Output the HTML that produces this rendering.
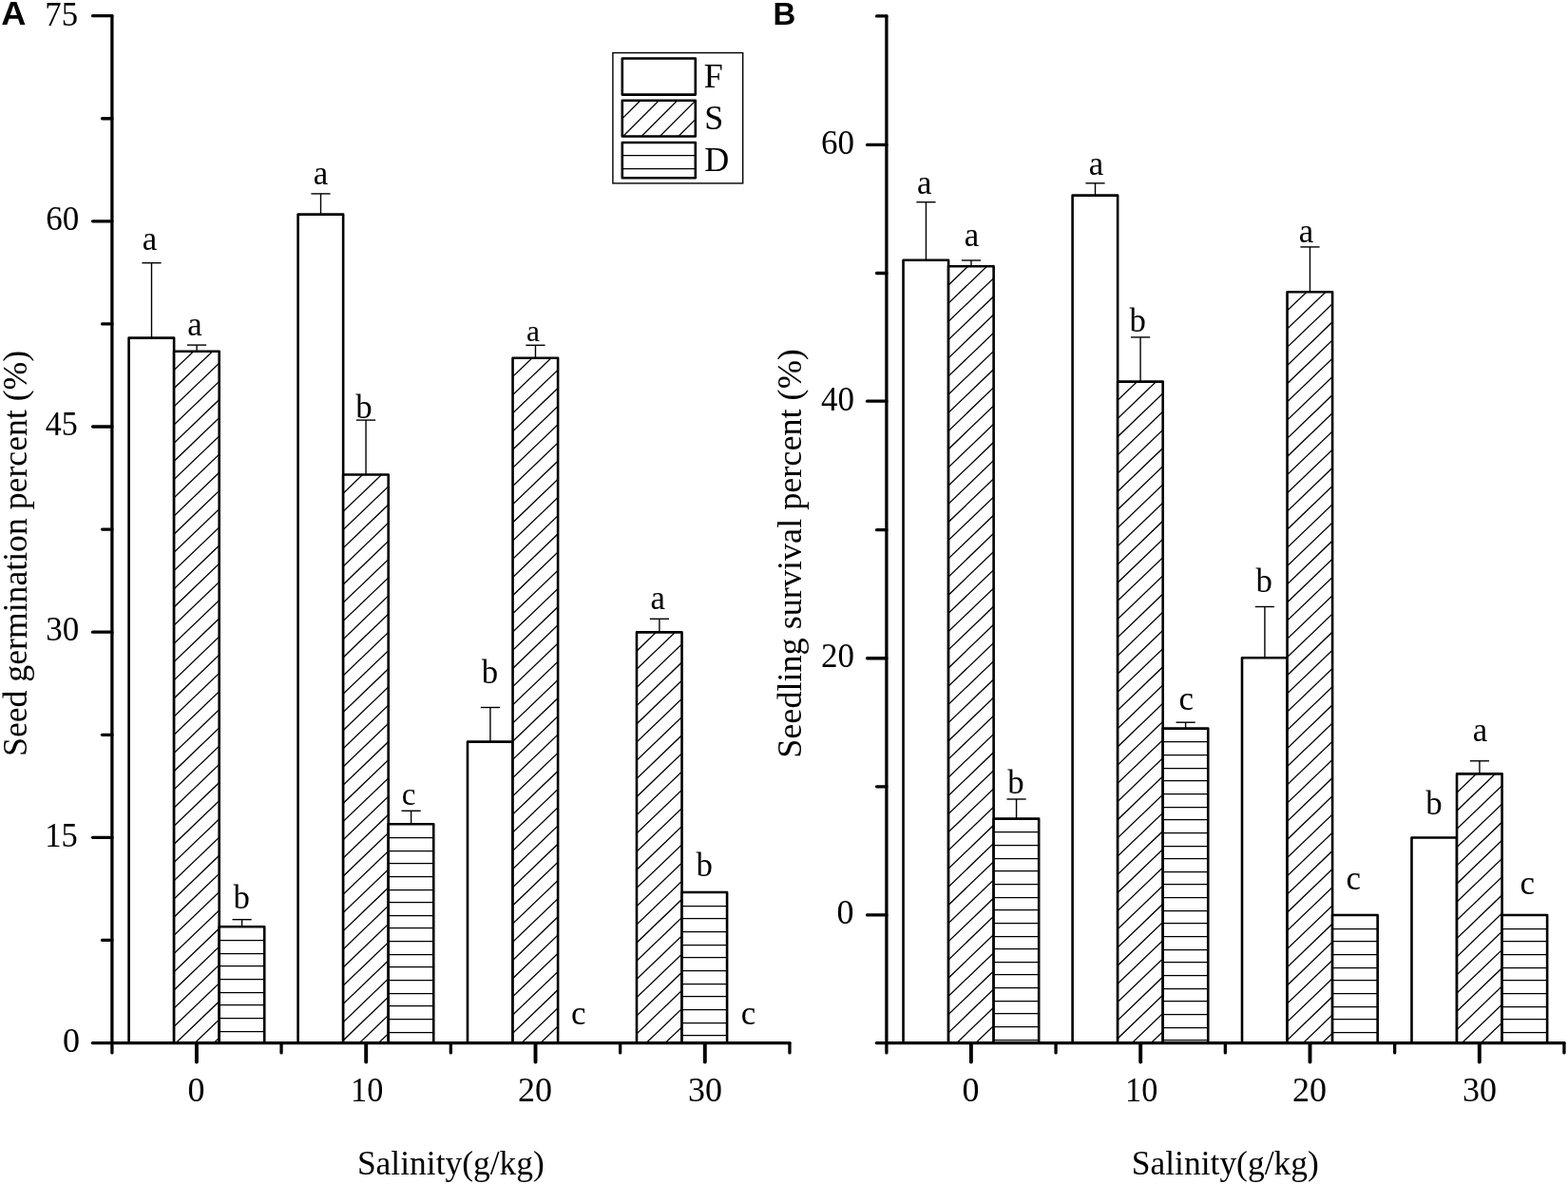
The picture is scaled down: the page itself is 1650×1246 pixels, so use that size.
<!DOCTYPE html>
<html lang="en">
<head>
<meta charset="utf-8">
<title>Seed germination and seedling survival percent versus salinity</title>
<style>
html,body{margin:0;padding:0;background:#fff;width:1650px;height:1246px;overflow:hidden}
svg{display:block;position:absolute;left:0;top:0}
text{font-family:"Liberation Serif","Times New Roman",Times,serif;fill:#000}
text.b{font-family:"Liberation Sans",Arial,Helvetica,sans-serif;font-weight:bold}
</style>
</head>
<body>
<svg width="1650" height="1246" viewBox="0 0 1650 1246">
<rect x="0" y="0" width="1650" height="1246" fill="#fff"/>
<defs>
<clipPath id="c1"><rect x="183.12" y="369.8" width="47.55" height="727.75"/></clipPath>
<clipPath id="c2"><rect x="361.15" y="499.5" width="47.55" height="598.05"/></clipPath>
<clipPath id="c3"><rect x="539.55" y="376.8" width="47.55" height="720.75"/></clipPath>
<clipPath id="c4"><rect x="669.98" y="665.4" width="47.55" height="432.15"/></clipPath>
<clipPath id="c5"><rect x="998.08" y="280.3" width="47.55" height="817.25"/></clipPath>
<clipPath id="c6"><rect x="1176.14" y="401.6" width="47.55" height="695.95"/></clipPath>
<clipPath id="c7"><rect x="1354.55" y="307.3" width="47.55" height="790.25"/></clipPath>
<clipPath id="c8"><rect x="1533.03" y="814.4" width="47.55" height="283.15"/></clipPath>
<clipPath id="c9"><rect x="654.8" y="105.7" width="77" height="37.8"/></clipPath>
</defs>
<g id="panel-A">
<rect x="135.58" y="355.6" width="47.55" height="741.95" fill="#fff"/>
<path d="M135.58 1097.55V355.6H183.12V1097.55" fill="none" stroke="#000" stroke-width="2.6" stroke-linejoin="round"/>
<line x1="159.5" y1="355.6" x2="159.5" y2="276.7" stroke="#000" stroke-width="1.4" stroke-linecap="butt"/>
<line x1="149.4" y1="276.7" x2="169.6" y2="276.7" stroke="#000" stroke-width="1.4" stroke-linecap="butt"/>
<rect x="183.12" y="369.8" width="47.55" height="727.75" fill="#fff"/>
<path d="M181.12 372.17L232.68 322.68M181.12 391.36L232.68 341.87M181.12 410.55L232.68 361.06M181.12 429.74L232.68 380.25M181.12 448.93L232.68 399.44M181.12 468.12L232.68 418.63M181.12 487.31L232.68 437.82M181.12 506.5L232.68 457.01M181.12 525.69L232.68 476.2M181.12 544.88L232.68 495.39M181.12 564.07L232.68 514.58M181.12 583.26L232.68 533.77M181.12 602.45L232.68 552.96M181.12 621.64L232.68 572.15M181.12 640.83L232.68 591.34M181.12 660.02L232.68 610.53M181.12 679.21L232.68 629.72M181.12 698.4L232.68 648.91M181.12 717.59L232.68 668.1M181.12 736.78L232.68 687.29M181.12 755.97L232.68 706.48M181.12 775.16L232.68 725.67M181.12 794.35L232.68 744.86M181.12 813.54L232.68 764.05M181.12 832.73L232.68 783.24M181.12 851.92L232.68 802.43M181.12 871.11L232.68 821.62M181.12 890.3L232.68 840.81M181.12 909.49L232.68 860M181.12 928.68L232.68 879.19M181.12 947.87L232.68 898.38M181.12 967.06L232.68 917.57M181.12 986.25L232.68 936.76M181.12 1005.44L232.68 955.95M181.12 1024.63L232.68 975.14M181.12 1043.82L232.68 994.33M181.12 1063.01L232.68 1013.52M181.12 1082.2L232.68 1032.71M181.12 1101.39L232.68 1051.9M181.12 1120.58L232.68 1071.09M181.12 1139.77L232.68 1090.28" stroke="#000" stroke-width="1.3" fill="none" clip-path="url(#c1)"/>
<path d="M183.12 1097.55V369.8H230.68V1097.55" fill="none" stroke="#000" stroke-width="2.6" stroke-linejoin="round"/>
<line x1="207.05" y1="369.8" x2="207.05" y2="363.1" stroke="#000" stroke-width="1.4" stroke-linecap="butt"/>
<line x1="196.95" y1="363.1" x2="217.15" y2="363.1" stroke="#000" stroke-width="1.4" stroke-linecap="butt"/>
<rect x="230.68" y="975.3" width="47.55" height="122.25" fill="#fff"/>
<path d="M230.68 989.5H278.23M230.68 1003.5H278.23M230.68 1016.5H278.23M230.68 1030.5H278.23M230.68 1044.5H278.23M230.68 1057.5H278.23M230.68 1071.5H278.23M230.68 1085.5H278.23" stroke="#000" stroke-width="1.25" fill="none"/>
<path d="M230.68 1097.55V975.3H278.23V1097.55" fill="none" stroke="#000" stroke-width="2.6" stroke-linejoin="round"/>
<line x1="254.6" y1="975.3" x2="254.6" y2="967.7" stroke="#000" stroke-width="1.4" stroke-linecap="butt"/>
<line x1="244.5" y1="967.7" x2="264.7" y2="967.7" stroke="#000" stroke-width="1.4" stroke-linecap="butt"/>
<rect x="313.6" y="225.6" width="47.55" height="871.95" fill="#fff"/>
<path d="M313.6 1097.55V225.6H361.15V1097.55" fill="none" stroke="#000" stroke-width="2.6" stroke-linejoin="round"/>
<line x1="337.52" y1="225.6" x2="337.52" y2="203.9" stroke="#000" stroke-width="1.4" stroke-linecap="butt"/>
<line x1="327.42" y1="203.9" x2="347.62" y2="203.9" stroke="#000" stroke-width="1.4" stroke-linecap="butt"/>
<rect x="361.15" y="499.5" width="47.55" height="598.05" fill="#fff"/>
<path d="M359.15 501.87L410.7 452.38M359.15 521.06L410.7 471.57M359.15 540.25L410.7 490.76M359.15 559.44L410.7 509.95M359.15 578.63L410.7 529.14M359.15 597.82L410.7 548.33M359.15 617.01L410.7 567.52M359.15 636.2L410.7 586.71M359.15 655.39L410.7 605.9M359.15 674.58L410.7 625.09M359.15 693.77L410.7 644.28M359.15 712.96L410.7 663.47M359.15 732.15L410.7 682.66M359.15 751.34L410.7 701.85M359.15 770.53L410.7 721.04M359.15 789.72L410.7 740.23M359.15 808.91L410.7 759.42M359.15 828.1L410.7 778.61M359.15 847.29L410.7 797.8M359.15 866.48L410.7 816.99M359.15 885.67L410.7 836.18M359.15 904.86L410.7 855.37M359.15 924.05L410.7 874.56M359.15 943.24L410.7 893.75M359.15 962.43L410.7 912.94M359.15 981.62L410.7 932.13M359.15 1000.81L410.7 951.32M359.15 1020L410.7 970.51M359.15 1039.19L410.7 989.7M359.15 1058.38L410.7 1008.89M359.15 1077.57L410.7 1028.08M359.15 1096.76L410.7 1047.27M359.15 1115.95L410.7 1066.46M359.15 1135.14L410.7 1085.65" stroke="#000" stroke-width="1.3" fill="none" clip-path="url(#c2)"/>
<path d="M361.15 1097.55V499.5H408.7V1097.55" fill="none" stroke="#000" stroke-width="2.6" stroke-linejoin="round"/>
<line x1="385.07" y1="499.5" x2="385.07" y2="442.1" stroke="#000" stroke-width="1.4" stroke-linecap="butt"/>
<line x1="374.97" y1="442.1" x2="395.17" y2="442.1" stroke="#000" stroke-width="1.4" stroke-linecap="butt"/>
<rect x="408.7" y="867.2" width="47.55" height="230.35" fill="#fff"/>
<path d="M408.7 881.5H456.25M408.7 895.5H456.25M408.7 908.5H456.25M408.7 922.5H456.25M408.7 936.5H456.25M408.7 949.5H456.25M408.7 963.5H456.25M408.7 976.5H456.25M408.7 990.5H456.25M408.7 1004.5H456.25M408.7 1017.5H456.25M408.7 1031.5H456.25M408.7 1045.5H456.25M408.7 1058.5H456.25M408.7 1072.5H456.25M408.7 1086.5H456.25" stroke="#000" stroke-width="1.25" fill="none"/>
<path d="M408.7 1097.55V867.2H456.25V1097.55" fill="none" stroke="#000" stroke-width="2.6" stroke-linejoin="round"/>
<line x1="432.62" y1="867.2" x2="432.62" y2="853.3" stroke="#000" stroke-width="1.4" stroke-linecap="butt"/>
<line x1="422.52" y1="853.3" x2="442.72" y2="853.3" stroke="#000" stroke-width="1.4" stroke-linecap="butt"/>
<rect x="492" y="780.6" width="47.55" height="316.95" fill="#fff"/>
<path d="M492 1097.55V780.6H539.55V1097.55" fill="none" stroke="#000" stroke-width="2.6" stroke-linejoin="round"/>
<line x1="515.92" y1="780.6" x2="515.92" y2="744.5" stroke="#000" stroke-width="1.4" stroke-linecap="butt"/>
<line x1="505.82" y1="744.5" x2="526.02" y2="744.5" stroke="#000" stroke-width="1.4" stroke-linecap="butt"/>
<rect x="539.55" y="376.8" width="47.55" height="720.75" fill="#fff"/>
<path d="M537.55 379.17L589.1 329.68M537.55 398.36L589.1 348.87M537.55 417.55L589.1 368.06M537.55 436.74L589.1 387.25M537.55 455.93L589.1 406.44M537.55 475.12L589.1 425.63M537.55 494.31L589.1 444.82M537.55 513.5L589.1 464.01M537.55 532.69L589.1 483.2M537.55 551.88L589.1 502.39M537.55 571.07L589.1 521.58M537.55 590.26L589.1 540.77M537.55 609.45L589.1 559.96M537.55 628.64L589.1 579.15M537.55 647.83L589.1 598.34M537.55 667.02L589.1 617.53M537.55 686.21L589.1 636.72M537.55 705.4L589.1 655.91M537.55 724.59L589.1 675.1M537.55 743.78L589.1 694.29M537.55 762.97L589.1 713.48M537.55 782.16L589.1 732.67M537.55 801.35L589.1 751.86M537.55 820.54L589.1 771.05M537.55 839.73L589.1 790.24M537.55 858.92L589.1 809.43M537.55 878.11L589.1 828.62M537.55 897.3L589.1 847.81M537.55 916.49L589.1 867M537.55 935.68L589.1 886.19M537.55 954.87L589.1 905.38M537.55 974.06L589.1 924.57M537.55 993.25L589.1 943.76M537.55 1012.44L589.1 962.95M537.55 1031.63L589.1 982.14M537.55 1050.82L589.1 1001.33M537.55 1070.01L589.1 1020.52M537.55 1089.2L589.1 1039.71M537.55 1108.39L589.1 1058.9M537.55 1127.58L589.1 1078.09M537.55 1146.77L589.1 1097.28" stroke="#000" stroke-width="1.3" fill="none" clip-path="url(#c3)"/>
<path d="M539.55 1097.55V376.8H587.1V1097.55" fill="none" stroke="#000" stroke-width="2.6" stroke-linejoin="round"/>
<line x1="563.47" y1="376.8" x2="563.47" y2="363.3" stroke="#000" stroke-width="1.4" stroke-linecap="butt"/>
<line x1="553.37" y1="363.3" x2="573.57" y2="363.3" stroke="#000" stroke-width="1.4" stroke-linecap="butt"/>
<rect x="669.98" y="665.4" width="47.55" height="432.15" fill="#fff"/>
<path d="M667.98 667.77L719.53 618.28M667.98 686.96L719.53 637.47M667.98 706.15L719.53 656.66M667.98 725.34L719.53 675.85M667.98 744.53L719.53 695.04M667.98 763.72L719.53 714.23M667.98 782.91L719.53 733.42M667.98 802.1L719.53 752.61M667.98 821.29L719.53 771.8M667.98 840.48L719.53 790.99M667.98 859.67L719.53 810.18M667.98 878.86L719.53 829.37M667.98 898.05L719.53 848.56M667.98 917.24L719.53 867.75M667.98 936.43L719.53 886.94M667.98 955.62L719.53 906.13M667.98 974.81L719.53 925.32M667.98 994L719.53 944.51M667.98 1013.19L719.53 963.7M667.98 1032.38L719.53 982.89M667.98 1051.57L719.53 1002.08M667.98 1070.76L719.53 1021.27M667.98 1089.95L719.53 1040.46M667.98 1109.14L719.53 1059.65M667.98 1128.33L719.53 1078.84" stroke="#000" stroke-width="1.3" fill="none" clip-path="url(#c4)"/>
<path d="M669.98 1097.55V665.4H717.53V1097.55" fill="none" stroke="#000" stroke-width="2.6" stroke-linejoin="round"/>
<line x1="693.9" y1="665.4" x2="693.9" y2="651.3" stroke="#000" stroke-width="1.4" stroke-linecap="butt"/>
<line x1="683.8" y1="651.3" x2="704" y2="651.3" stroke="#000" stroke-width="1.4" stroke-linecap="butt"/>
<rect x="717.53" y="939" width="47.55" height="158.55" fill="#fff"/>
<path d="M717.53 953.5H765.08M717.53 966.5H765.08M717.53 980.5H765.08M717.53 994.5H765.08M717.53 1007.5H765.08M717.53 1021.5H765.08M717.53 1035.5H765.08M717.53 1048.5H765.08M717.53 1062.5H765.08M717.53 1076.5H765.08M717.53 1089.5H765.08" stroke="#000" stroke-width="1.25" fill="none"/>
<path d="M717.53 1097.55V939H765.08V1097.55" fill="none" stroke="#000" stroke-width="2.6" stroke-linejoin="round"/>
<line x1="117.9" y1="16.65" x2="117.9" y2="1107.9" stroke="#000" stroke-width="3.3" stroke-linecap="round"/>
<line x1="97.4" y1="1097.55" x2="830.95" y2="1097.55" stroke="#000" stroke-width="3.3" stroke-linecap="round"/>
<line x1="107.55" y1="989.46" x2="117.9" y2="989.46" stroke="#000" stroke-width="3.3" stroke-linecap="round"/>
<line x1="97.55" y1="881.37" x2="117.9" y2="881.37" stroke="#000" stroke-width="3.3" stroke-linecap="round"/>
<line x1="107.55" y1="773.28" x2="117.9" y2="773.28" stroke="#000" stroke-width="3.3" stroke-linecap="round"/>
<line x1="97.55" y1="665.19" x2="117.9" y2="665.19" stroke="#000" stroke-width="3.3" stroke-linecap="round"/>
<line x1="107.55" y1="557.1" x2="117.9" y2="557.1" stroke="#000" stroke-width="3.3" stroke-linecap="round"/>
<line x1="97.55" y1="449.01" x2="117.9" y2="449.01" stroke="#000" stroke-width="3.3" stroke-linecap="round"/>
<line x1="107.55" y1="340.92" x2="117.9" y2="340.92" stroke="#000" stroke-width="3.3" stroke-linecap="round"/>
<line x1="97.55" y1="232.83" x2="117.9" y2="232.83" stroke="#000" stroke-width="3.3" stroke-linecap="round"/>
<line x1="107.55" y1="124.74" x2="117.9" y2="124.74" stroke="#000" stroke-width="3.3" stroke-linecap="round"/>
<line x1="97.55" y1="16.65" x2="117.9" y2="16.65" stroke="#000" stroke-width="3.3" stroke-linecap="round"/>
<line x1="206.9" y1="1097.95" x2="206.9" y2="1117.6" stroke="#000" stroke-width="3.9" stroke-linecap="round"/>
<line x1="296.05" y1="1097.65" x2="296.05" y2="1107.9" stroke="#000" stroke-width="3.3" stroke-linecap="round"/>
<line x1="385.2" y1="1097.95" x2="385.2" y2="1117.6" stroke="#000" stroke-width="3.9" stroke-linecap="round"/>
<line x1="474.35" y1="1097.65" x2="474.35" y2="1107.9" stroke="#000" stroke-width="3.3" stroke-linecap="round"/>
<line x1="563.5" y1="1097.95" x2="563.5" y2="1117.6" stroke="#000" stroke-width="3.9" stroke-linecap="round"/>
<line x1="652.65" y1="1097.65" x2="652.65" y2="1107.9" stroke="#000" stroke-width="3.3" stroke-linecap="round"/>
<line x1="741.8" y1="1097.95" x2="741.8" y2="1117.6" stroke="#000" stroke-width="3.9" stroke-linecap="round"/>
<line x1="830.95" y1="1097.65" x2="830.95" y2="1107.9" stroke="#000" stroke-width="3.3" stroke-linecap="round"/>
<text class="b" font-size="34.3" transform="translate(1.2 25.8) scale(1.055 1)">A</text>
<text x="82" y="26.6" font-size="36.7" text-anchor="end" textLength="34.7" lengthAdjust="spacingAndGlyphs">75</text>
<text x="83.2" y="242.4" font-size="36.7" text-anchor="end" textLength="35.0" lengthAdjust="spacingAndGlyphs">60</text>
<text x="81.8" y="458.2" font-size="36.7" text-anchor="end" textLength="34.0" lengthAdjust="spacingAndGlyphs">45</text>
<text x="83.2" y="674.4" font-size="36.7" text-anchor="end" textLength="35.0" lengthAdjust="spacingAndGlyphs">30</text>
<text x="81.8" y="890.8" font-size="36.7" text-anchor="end" textLength="34.5" lengthAdjust="spacingAndGlyphs">15</text>
<text x="83.9" y="1107.4" font-size="36.7" text-anchor="end" textLength="18.0" lengthAdjust="spacingAndGlyphs">0</text>
<text x="206.4" y="1158.8" font-size="36" text-anchor="middle">0</text>
<text x="386.2" y="1158.8" font-size="36" text-anchor="middle" textLength="34.2" lengthAdjust="spacingAndGlyphs">10</text>
<text x="563" y="1158.8" font-size="36" text-anchor="middle">20</text>
<text x="742" y="1158.8" font-size="36" text-anchor="middle">30</text>
<text x="474.4" y="1236" font-size="36" text-anchor="middle" textLength="197.0" lengthAdjust="spacingAndGlyphs">Salinity(g/kg)</text>
<text x="27.8" y="582.4" font-size="36" text-anchor="middle" transform="rotate(-90 27.8 582.4)" textLength="427.1" lengthAdjust="spacingAndGlyphs">Seed germination percent (%)</text>
<text x="149.65" y="262.51" font-size="34.8">a</text>
<text x="197.15" y="353.11" font-size="34.8">a</text>
<text x="245.41" y="956.11" font-size="34.8">b</text>
<text x="329.75" y="194.01" font-size="34.8">a</text>
<text x="374.21" y="439.51" font-size="34.8">b</text>
<text x="422.86" y="846.53" font-size="33">c</text>
<text x="506.76" y="718.81" font-size="34.8">b</text>
<text x="554.02" y="359.24" font-size="31.5">a</text>
<text x="600.9" y="1077.91" font-size="34.8">c</text>
<text x="684.6" y="641.01" font-size="34.8">a</text>
<text x="732.46" y="922.11" font-size="34.8">b</text>
<text x="779.7" y="1078.11" font-size="34.8">c</text>
</g>
<g id="panel-B">
<rect x="950.53" y="273.8" width="47.55" height="823.75" fill="#fff"/>
<path d="M950.53 1097.55V273.8H998.08V1097.55" fill="none" stroke="#000" stroke-width="2.6" stroke-linejoin="round"/>
<line x1="974.45" y1="273.8" x2="974.45" y2="212.7" stroke="#000" stroke-width="1.4" stroke-linecap="butt"/>
<line x1="964.35" y1="212.7" x2="984.55" y2="212.7" stroke="#000" stroke-width="1.4" stroke-linecap="butt"/>
<rect x="998.08" y="280.3" width="47.55" height="817.25" fill="#fff"/>
<path d="M996.08 282.67L1047.62 233.18M996.08 301.86L1047.62 252.37M996.08 321.05L1047.62 271.56M996.08 340.24L1047.62 290.75M996.08 359.43L1047.62 309.94M996.08 378.62L1047.62 329.13M996.08 397.81L1047.62 348.32M996.08 417L1047.62 367.51M996.08 436.19L1047.62 386.7M996.08 455.38L1047.62 405.89M996.08 474.57L1047.62 425.08M996.08 493.76L1047.62 444.27M996.08 512.95L1047.62 463.46M996.08 532.14L1047.62 482.65M996.08 551.33L1047.62 501.84M996.08 570.52L1047.62 521.03M996.08 589.71L1047.62 540.22M996.08 608.9L1047.62 559.41M996.08 628.09L1047.62 578.6M996.08 647.28L1047.62 597.79M996.08 666.47L1047.62 616.98M996.08 685.66L1047.62 636.17M996.08 704.85L1047.62 655.36M996.08 724.04L1047.62 674.55M996.08 743.23L1047.62 693.74M996.08 762.42L1047.62 712.93M996.08 781.61L1047.62 732.12M996.08 800.8L1047.62 751.31M996.08 819.99L1047.62 770.5M996.08 839.18L1047.62 789.69M996.08 858.37L1047.62 808.88M996.08 877.56L1047.62 828.07M996.08 896.75L1047.62 847.26M996.08 915.94L1047.62 866.45M996.08 935.13L1047.62 885.64M996.08 954.32L1047.62 904.83M996.08 973.51L1047.62 924.02M996.08 992.7L1047.62 943.21M996.08 1011.89L1047.62 962.4M996.08 1031.08L1047.62 981.59M996.08 1050.27L1047.62 1000.78M996.08 1069.46L1047.62 1019.97M996.08 1088.65L1047.62 1039.16M996.08 1107.84L1047.62 1058.35M996.08 1127.03L1047.62 1077.54M996.08 1146.22L1047.62 1096.73" stroke="#000" stroke-width="1.3" fill="none" clip-path="url(#c5)"/>
<path d="M998.08 1097.55V280.3H1045.62V1097.55" fill="none" stroke="#000" stroke-width="2.6" stroke-linejoin="round"/>
<line x1="1022" y1="280.3" x2="1022" y2="274" stroke="#000" stroke-width="1.4" stroke-linecap="butt"/>
<line x1="1011.9" y1="274" x2="1032.1" y2="274" stroke="#000" stroke-width="1.4" stroke-linecap="butt"/>
<rect x="1045.62" y="861.6" width="47.55" height="235.95" fill="#fff"/>
<path d="M1045.62 875.5H1093.17M1045.62 889.5H1093.17M1045.62 903.5H1093.17M1045.62 916.5H1093.17M1045.62 930.5H1093.17M1045.62 944.5H1093.17M1045.62 957.5H1093.17M1045.62 971.5H1093.17M1045.62 985.5H1093.17M1045.62 998.5H1093.17M1045.62 1012.5H1093.17M1045.62 1025.5H1093.17M1045.62 1039.5H1093.17M1045.62 1053.5H1093.17M1045.62 1066.5H1093.17M1045.62 1080.5H1093.17M1045.62 1094.5H1093.17" stroke="#000" stroke-width="1.25" fill="none"/>
<path d="M1045.62 1097.55V861.6H1093.17V1097.55" fill="none" stroke="#000" stroke-width="2.6" stroke-linejoin="round"/>
<line x1="1069.55" y1="861.6" x2="1069.55" y2="841" stroke="#000" stroke-width="1.4" stroke-linecap="butt"/>
<line x1="1059.45" y1="841" x2="1079.65" y2="841" stroke="#000" stroke-width="1.4" stroke-linecap="butt"/>
<rect x="1128.6" y="205.6" width="47.55" height="891.95" fill="#fff"/>
<path d="M1128.6 1097.55V205.6H1176.14V1097.55" fill="none" stroke="#000" stroke-width="2.6" stroke-linejoin="round"/>
<line x1="1152.52" y1="205.6" x2="1152.52" y2="192.8" stroke="#000" stroke-width="1.4" stroke-linecap="butt"/>
<line x1="1142.42" y1="192.8" x2="1162.62" y2="192.8" stroke="#000" stroke-width="1.4" stroke-linecap="butt"/>
<rect x="1176.14" y="401.6" width="47.55" height="695.95" fill="#fff"/>
<path d="M1174.14 403.97L1225.69 354.48M1174.14 423.16L1225.69 373.67M1174.14 442.35L1225.69 392.86M1174.14 461.54L1225.69 412.05M1174.14 480.73L1225.69 431.24M1174.14 499.92L1225.69 450.43M1174.14 519.11L1225.69 469.62M1174.14 538.3L1225.69 488.81M1174.14 557.49L1225.69 508M1174.14 576.68L1225.69 527.19M1174.14 595.87L1225.69 546.38M1174.14 615.06L1225.69 565.57M1174.14 634.25L1225.69 584.76M1174.14 653.44L1225.69 603.95M1174.14 672.63L1225.69 623.14M1174.14 691.82L1225.69 642.33M1174.14 711.01L1225.69 661.52M1174.14 730.2L1225.69 680.71M1174.14 749.39L1225.69 699.9M1174.14 768.58L1225.69 719.09M1174.14 787.77L1225.69 738.28M1174.14 806.96L1225.69 757.47M1174.14 826.15L1225.69 776.66M1174.14 845.34L1225.69 795.85M1174.14 864.53L1225.69 815.04M1174.14 883.72L1225.69 834.23M1174.14 902.91L1225.69 853.42M1174.14 922.1L1225.69 872.61M1174.14 941.29L1225.69 891.8M1174.14 960.48L1225.69 910.99M1174.14 979.67L1225.69 930.18M1174.14 998.86L1225.69 949.37M1174.14 1018.05L1225.69 968.56M1174.14 1037.24L1225.69 987.75M1174.14 1056.43L1225.69 1006.94M1174.14 1075.62L1225.69 1026.13M1174.14 1094.81L1225.69 1045.32M1174.14 1114L1225.69 1064.51M1174.14 1133.19L1225.69 1083.7" stroke="#000" stroke-width="1.3" fill="none" clip-path="url(#c6)"/>
<path d="M1176.14 1097.55V401.6H1223.69V1097.55" fill="none" stroke="#000" stroke-width="2.6" stroke-linejoin="round"/>
<line x1="1200.07" y1="401.6" x2="1200.07" y2="354.9" stroke="#000" stroke-width="1.4" stroke-linecap="butt"/>
<line x1="1189.97" y1="354.9" x2="1210.17" y2="354.9" stroke="#000" stroke-width="1.4" stroke-linecap="butt"/>
<rect x="1223.69" y="766.6" width="47.55" height="330.95" fill="#fff"/>
<path d="M1223.69 780.5H1271.24M1223.69 794.5H1271.24M1223.69 808.5H1271.24M1223.69 821.5H1271.24M1223.69 835.5H1271.24M1223.69 849.5H1271.24M1223.69 862.5H1271.24M1223.69 876.5H1271.24M1223.69 890.5H1271.24M1223.69 903.5H1271.24M1223.69 917.5H1271.24M1223.69 930.5H1271.24M1223.69 944.5H1271.24M1223.69 958.5H1271.24M1223.69 971.5H1271.24M1223.69 985.5H1271.24M1223.69 999.5H1271.24M1223.69 1012.5H1271.24M1223.69 1026.5H1271.24M1223.69 1040.5H1271.24M1223.69 1053.5H1271.24M1223.69 1067.5H1271.24M1223.69 1081.5H1271.24M1223.69 1094.5H1271.24" stroke="#000" stroke-width="1.25" fill="none"/>
<path d="M1223.69 1097.55V766.6H1271.24V1097.55" fill="none" stroke="#000" stroke-width="2.6" stroke-linejoin="round"/>
<line x1="1247.62" y1="766.6" x2="1247.62" y2="760.2" stroke="#000" stroke-width="1.4" stroke-linecap="butt"/>
<line x1="1237.52" y1="760.2" x2="1257.72" y2="760.2" stroke="#000" stroke-width="1.4" stroke-linecap="butt"/>
<rect x="1307" y="692.3" width="47.55" height="405.25" fill="#fff"/>
<path d="M1307 1097.55V692.3H1354.55V1097.55" fill="none" stroke="#000" stroke-width="2.6" stroke-linejoin="round"/>
<line x1="1330.93" y1="692.3" x2="1330.93" y2="638.5" stroke="#000" stroke-width="1.4" stroke-linecap="butt"/>
<line x1="1320.83" y1="638.5" x2="1341.03" y2="638.5" stroke="#000" stroke-width="1.4" stroke-linecap="butt"/>
<rect x="1354.55" y="307.3" width="47.55" height="790.25" fill="#fff"/>
<path d="M1352.55 309.67L1404.1 260.18M1352.55 328.86L1404.1 279.37M1352.55 348.05L1404.1 298.56M1352.55 367.24L1404.1 317.75M1352.55 386.43L1404.1 336.94M1352.55 405.62L1404.1 356.13M1352.55 424.81L1404.1 375.32M1352.55 444L1404.1 394.51M1352.55 463.19L1404.1 413.7M1352.55 482.38L1404.1 432.89M1352.55 501.57L1404.1 452.08M1352.55 520.76L1404.1 471.27M1352.55 539.95L1404.1 490.46M1352.55 559.14L1404.1 509.65M1352.55 578.33L1404.1 528.84M1352.55 597.52L1404.1 548.03M1352.55 616.71L1404.1 567.22M1352.55 635.9L1404.1 586.41M1352.55 655.09L1404.1 605.6M1352.55 674.28L1404.1 624.79M1352.55 693.47L1404.1 643.98M1352.55 712.66L1404.1 663.17M1352.55 731.85L1404.1 682.36M1352.55 751.04L1404.1 701.55M1352.55 770.23L1404.1 720.74M1352.55 789.42L1404.1 739.93M1352.55 808.61L1404.1 759.12M1352.55 827.8L1404.1 778.31M1352.55 846.99L1404.1 797.5M1352.55 866.18L1404.1 816.69M1352.55 885.37L1404.1 835.88M1352.55 904.56L1404.1 855.07M1352.55 923.75L1404.1 874.26M1352.55 942.94L1404.1 893.45M1352.55 962.13L1404.1 912.64M1352.55 981.32L1404.1 931.83M1352.55 1000.51L1404.1 951.02M1352.55 1019.7L1404.1 970.21M1352.55 1038.89L1404.1 989.4M1352.55 1058.08L1404.1 1008.59M1352.55 1077.27L1404.1 1027.78M1352.55 1096.46L1404.1 1046.97M1352.55 1115.65L1404.1 1066.16M1352.55 1134.84L1404.1 1085.35" stroke="#000" stroke-width="1.3" fill="none" clip-path="url(#c7)"/>
<path d="M1354.55 1097.55V307.3H1402.1V1097.55" fill="none" stroke="#000" stroke-width="2.6" stroke-linejoin="round"/>
<line x1="1378.48" y1="307.3" x2="1378.48" y2="259.9" stroke="#000" stroke-width="1.4" stroke-linecap="butt"/>
<line x1="1368.38" y1="259.9" x2="1388.58" y2="259.9" stroke="#000" stroke-width="1.4" stroke-linecap="butt"/>
<rect x="1402.1" y="963" width="47.55" height="134.55" fill="#fff"/>
<path d="M1402.1 977.5H1449.65M1402.1 990.5H1449.65M1402.1 1004.5H1449.65M1402.1 1018.5H1449.65M1402.1 1031.5H1449.65M1402.1 1045.5H1449.65M1402.1 1059.5H1449.65M1402.1 1072.5H1449.65M1402.1 1086.5H1449.65" stroke="#000" stroke-width="1.25" fill="none"/>
<path d="M1402.1 1097.55V963H1449.65V1097.55" fill="none" stroke="#000" stroke-width="2.6" stroke-linejoin="round"/>
<rect x="1485.48" y="881.45" width="47.55" height="216.1" fill="#fff"/>
<path d="M1485.48 1097.55V881.45H1533.03V1097.55" fill="none" stroke="#000" stroke-width="2.6" stroke-linejoin="round"/>
<rect x="1533.03" y="814.4" width="47.55" height="283.15" fill="#fff"/>
<path d="M1531.03 816.77L1582.58 767.28M1531.03 835.96L1582.58 786.47M1531.03 855.15L1582.58 805.66M1531.03 874.34L1582.58 824.85M1531.03 893.53L1582.58 844.04M1531.03 912.72L1582.58 863.23M1531.03 931.91L1582.58 882.42M1531.03 951.1L1582.58 901.61M1531.03 970.29L1582.58 920.8M1531.03 989.48L1582.58 939.99M1531.03 1008.67L1582.58 959.18M1531.03 1027.86L1582.58 978.37M1531.03 1047.05L1582.58 997.56M1531.03 1066.24L1582.58 1016.75M1531.03 1085.43L1582.58 1035.94M1531.03 1104.62L1582.58 1055.13M1531.03 1123.81L1582.58 1074.32M1531.03 1143L1582.58 1093.51" stroke="#000" stroke-width="1.3" fill="none" clip-path="url(#c8)"/>
<path d="M1533.03 1097.55V814.4H1580.58V1097.55" fill="none" stroke="#000" stroke-width="2.6" stroke-linejoin="round"/>
<line x1="1556.95" y1="814.4" x2="1556.95" y2="800.8" stroke="#000" stroke-width="1.4" stroke-linecap="butt"/>
<line x1="1546.85" y1="800.8" x2="1567.05" y2="800.8" stroke="#000" stroke-width="1.4" stroke-linecap="butt"/>
<rect x="1580.58" y="963" width="47.55" height="134.55" fill="#fff"/>
<path d="M1580.58 977.5H1628.12M1580.58 990.5H1628.12M1580.58 1004.5H1628.12M1580.58 1018.5H1628.12M1580.58 1031.5H1628.12M1580.58 1045.5H1628.12M1580.58 1059.5H1628.12M1580.58 1072.5H1628.12M1580.58 1086.5H1628.12" stroke="#000" stroke-width="1.25" fill="none"/>
<path d="M1580.58 1097.55V963H1628.12V1097.55" fill="none" stroke="#000" stroke-width="2.6" stroke-linejoin="round"/>
<line x1="932.9" y1="16.9" x2="932.9" y2="1107.9" stroke="#000" stroke-width="3.3" stroke-linecap="round"/>
<line x1="922.4" y1="1097.55" x2="1645.95" y2="1097.55" stroke="#000" stroke-width="3.3" stroke-linecap="round"/>
<line x1="912.55" y1="962.95" x2="932.9" y2="962.95" stroke="#000" stroke-width="3.3" stroke-linecap="round"/>
<line x1="922.55" y1="827.86" x2="932.9" y2="827.86" stroke="#000" stroke-width="3.3" stroke-linecap="round"/>
<line x1="912.55" y1="692.77" x2="932.9" y2="692.77" stroke="#000" stroke-width="3.3" stroke-linecap="round"/>
<line x1="922.55" y1="557.68" x2="932.9" y2="557.68" stroke="#000" stroke-width="3.3" stroke-linecap="round"/>
<line x1="912.55" y1="422.2" x2="932.9" y2="422.2" stroke="#000" stroke-width="3.3" stroke-linecap="round"/>
<line x1="922.55" y1="287.5" x2="932.9" y2="287.5" stroke="#000" stroke-width="3.3" stroke-linecap="round"/>
<line x1="912.55" y1="152.41" x2="932.9" y2="152.41" stroke="#000" stroke-width="3.3" stroke-linecap="round"/>
<line x1="922.55" y1="16.9" x2="932.9" y2="16.9" stroke="#000" stroke-width="3.3" stroke-linecap="round"/>
<line x1="1021.9" y1="1097.95" x2="1021.9" y2="1117.6" stroke="#000" stroke-width="3.9" stroke-linecap="round"/>
<line x1="1111.05" y1="1097.65" x2="1111.05" y2="1107.9" stroke="#000" stroke-width="3.3" stroke-linecap="round"/>
<line x1="1200.2" y1="1097.95" x2="1200.2" y2="1117.6" stroke="#000" stroke-width="3.9" stroke-linecap="round"/>
<line x1="1289.35" y1="1097.65" x2="1289.35" y2="1107.9" stroke="#000" stroke-width="3.3" stroke-linecap="round"/>
<line x1="1378.5" y1="1097.95" x2="1378.5" y2="1117.6" stroke="#000" stroke-width="3.9" stroke-linecap="round"/>
<line x1="1467.65" y1="1097.65" x2="1467.65" y2="1107.9" stroke="#000" stroke-width="3.3" stroke-linecap="round"/>
<line x1="1556.8" y1="1097.95" x2="1556.8" y2="1117.6" stroke="#000" stroke-width="3.9" stroke-linecap="round"/>
<line x1="1645.95" y1="1097.65" x2="1645.95" y2="1107.9" stroke="#000" stroke-width="3.3" stroke-linecap="round"/>
<text class="b" font-size="34.1" transform="translate(813.5 25.7) scale(0.967 1)">B</text>
<text x="899.1" y="162" font-size="36.7" text-anchor="end" textLength="35.0" lengthAdjust="spacingAndGlyphs">60</text>
<text x="899.1" y="431.9" font-size="36.7" text-anchor="end" textLength="35.0" lengthAdjust="spacingAndGlyphs">40</text>
<text x="899.1" y="702.1" font-size="36.7" text-anchor="end" textLength="35.0" lengthAdjust="spacingAndGlyphs">20</text>
<text x="898.6" y="972.1" font-size="36.7" text-anchor="end" textLength="18.0" lengthAdjust="spacingAndGlyphs">0</text>
<text x="1021.5" y="1158.8" font-size="36" text-anchor="middle">0</text>
<text x="1201.2" y="1158.8" font-size="36" text-anchor="middle" textLength="34.2" lengthAdjust="spacingAndGlyphs">10</text>
<text x="1378" y="1158.8" font-size="36" text-anchor="middle">20</text>
<text x="1557" y="1158.8" font-size="36" text-anchor="middle">30</text>
<text x="1289.3" y="1236" font-size="36" text-anchor="middle" textLength="197.0" lengthAdjust="spacingAndGlyphs">Salinity(g/kg)</text>
<text x="842.6" y="582.5" font-size="36" text-anchor="middle" transform="rotate(-90 842.6 582.5)" textLength="430.6" lengthAdjust="spacingAndGlyphs">Seedling survival percent (%)</text>
<text x="965" y="204.21" font-size="34.8">a</text>
<text x="1014.8" y="258.71" font-size="34.8">a</text>
<text x="1060.31" y="834.61" font-size="34.8">b</text>
<text x="1145.7" y="184.11" font-size="34.8">a</text>
<text x="1188.46" y="348.61" font-size="34.8">b</text>
<text x="1240.5" y="747.01" font-size="34.8">c</text>
<text x="1321.41" y="623.21" font-size="34.8">b</text>
<text x="1366.75" y="255.21" font-size="34.8">a</text>
<text x="1416.5" y="935.71" font-size="34.8">c</text>
<text x="1500.21" y="856.91" font-size="34.8">b</text>
<text x="1549.8" y="779.91" font-size="34.8">a</text>
<text x="1599.6" y="940.51" font-size="34.8">c</text>
</g>
<g id="legend">
<rect x="644.9" y="55.6" width="136.8" height="137.3" fill="#fff" stroke="#000" stroke-width="1.4"/>
<rect x="654.8" y="61.5" width="77" height="38.1" fill="#fff"/>
<rect x="654.8" y="61.5" width="77" height="38.1" fill="none" stroke="#000" stroke-width="2.6" stroke-linejoin="round"/>
<text x="740.7" y="92.1" font-size="36">F</text>
<rect x="654.8" y="105.7" width="77" height="37.8" fill="#fff"/>
<path d="M652.8 107.5L733.8 26.5M652.8 126.9L733.8 45.9M652.8 146.3L733.8 65.3M652.8 165.7L733.8 84.7M652.8 185.1L733.8 104.1M652.8 204.5L733.8 123.5M652.8 223.9L733.8 142.9" stroke="#000" stroke-width="1.3" fill="none" clip-path="url(#c9)"/>
<rect x="654.8" y="105.7" width="77" height="37.8" fill="none" stroke="#000" stroke-width="2.6" stroke-linejoin="round"/>
<text x="741.3" y="136.3" font-size="36">S</text>
<rect x="654.8" y="150" width="77" height="37.3" fill="#fff"/>
<path d="M654.8 163.5H731.8M654.8 177.5H731.8" stroke="#000" stroke-width="1.25" fill="none"/>
<rect x="654.8" y="150" width="77" height="37.3" fill="none" stroke="#000" stroke-width="2.6" stroke-linejoin="round"/>
<text x="741.2" y="179.6" font-size="36">D</text>
</g>
</svg>
</body>
</html>
